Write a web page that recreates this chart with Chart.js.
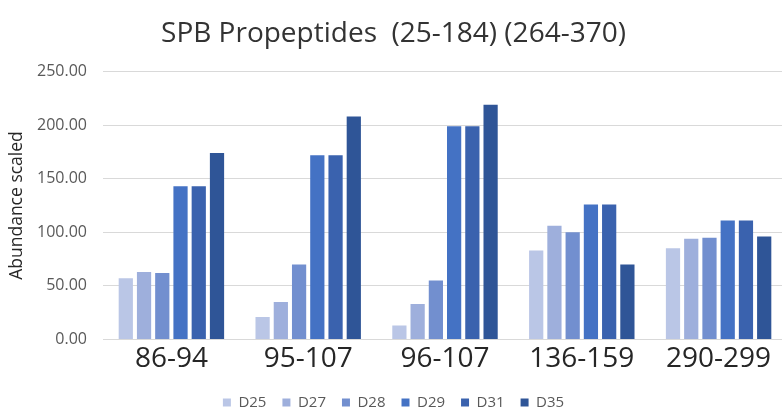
<!DOCTYPE html>
<html>
<head>
<meta charset="utf-8">
<script src="https://cdn.jsdelivr.net/npm/chart.js@4/dist/chart.umd.min.js"></script>
<style>
  html, body { margin: 0; padding: 0; background: #ffffff; overflow: hidden; }
  #wrap { width: 782px; height: 412px; overflow: hidden; position: relative; }
  canvas { display: block; }
</style>
</head>
<body>
<div id="wrap"><canvas id="chart" width="800" height="420" style="width:800px;height:420px"></canvas></div>
<script>
// Peptide regions on the x axis
const categories = ['86-94', '95-107', '96-107', '136-159', '290-299'];

// Scaled abundance per sample day
const seriesNames = ['D25', 'D27', 'D28', 'D29', 'D31', 'D35'];
const d25 = [57, 21, 13, 83, 85];
const d27 = [63, 35, 33, 106, 94];
const d28 = [62, 70, 55, 100, 95];
const d29 = [143, 172, 199, 126, 111];
const d31 = [143, 172, 199, 126, 111];
const d35 = [174, 208, 219, 70, 96];

// Y axis ticks
const yTicks = [0, 50, 100, 150, 200, 250];

const seriesValues = [d25, d27, d28, d29, d31, d35];
const seriesColors = ['#bac6e6', '#9eafdc', '#728fcf', '#4472c4', '#3a62ae', '#2f5597'];

const FONT = "'Open Sans', 'Liberation Sans', sans-serif";

new Chart(document.getElementById('chart'), {
  type: 'bar',
  data: {
    labels: categories,
    datasets: seriesNames.map((name, i) => ({
      label: name,
      data: seriesValues[i],
      backgroundColor: seriesColors[i],
      borderWidth: 0,
      categoryPercentage: 0.8,
      barPercentage: 0.78
    }))
  },
  options: {
    responsive: false,
    devicePixelRatio: 1,
    animation: false,
    layout: { padding: { left: 0, right: 13, top: 0, bottom: 0 } },
    plugins: {
      title: {
        display: true,
        text: 'SPB Propeptides  (25-184) (264-370)',
        color: '#333333',
        font: { family: FONT, size: 28, weight: 'normal' },
        padding: { top: 17, bottom: 21 }
      },
      legend: {
        position: 'bottom',
        labels: {
          color: '#595959',
          font: { family: FONT, size: 15 },
          boxWidth: 8,
          boxHeight: 8,
          padding: 16
        }
      },
      tooltip: { enabled: false }
    },
    scales: {
      x: {
        grid: { display: false, drawTicks: false },
        border: { display: true, color: '#d9d9d9', width: 1 },
        ticks: {
          color: '#262626',
          font: { family: FONT, size: 28 },
          padding: 3,
          maxRotation: 0
        }
      },
      y: {
        min: 0,
        max: 250,
        afterBuildTicks: (scale) => { scale.ticks = yTicks.map(v => ({ value: v })); },
        afterFit: (scale) => { scale.width = 103; },
        grid: { color: '#d9d9d9', lineWidth: 1, drawTicks: false },
        border: { display: false },
        ticks: {
          color: '#595959',
          font: { family: FONT, size: 16 },
          padding: 16,
          callback: (v) => Number(v).toFixed(2)
        },
        title: {
          display: true,
          text: 'Abundance scaled',
          color: '#262626',
          font: { family: FONT, size: 17.5 },
          padding: { top: 7, bottom: 0 }
        }
      }
    }
  }
});
</script>
</body>
</html>
